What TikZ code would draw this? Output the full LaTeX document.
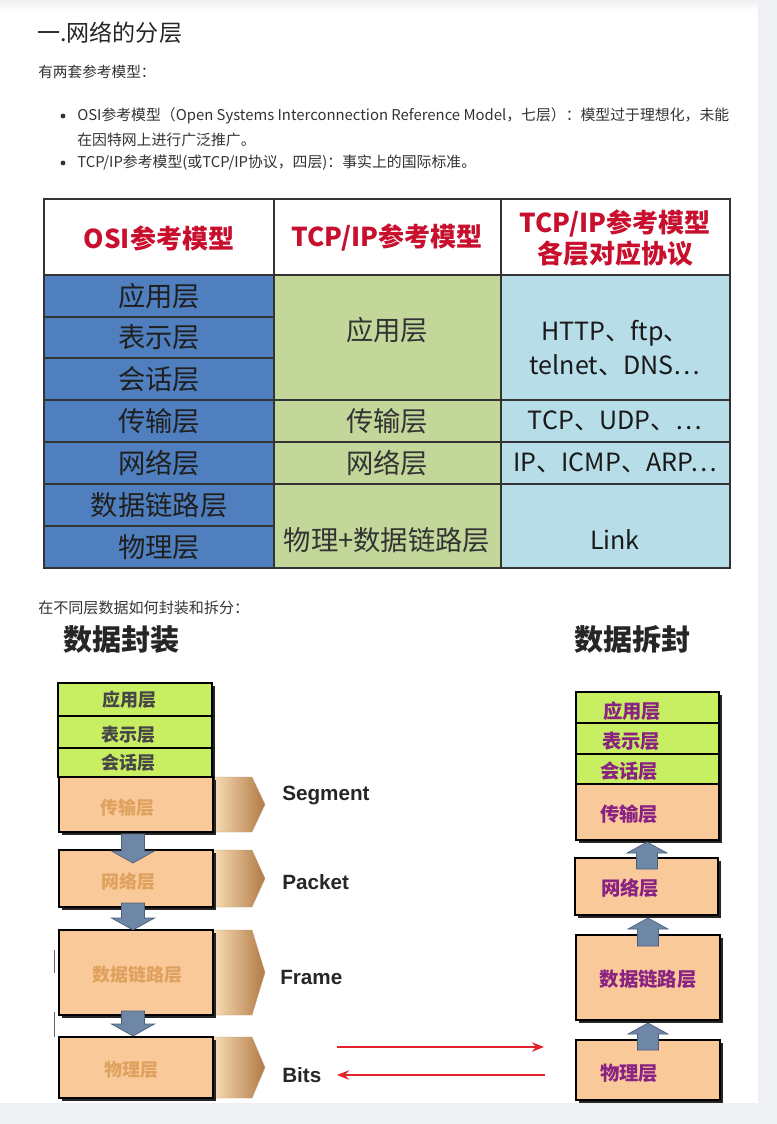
\documentclass[tikz,border=0pt]{standalone}
\usepackage{fontspec}
\setmainfont{Noto Sans CJK SC}
\newfontfamily\latinb{Liberation Sans}[BoldFont={Liberation Sans Bold}]
\usetikzlibrary{arrows.meta}
\definecolor{hdrred}{HTML}{C8102E}
\definecolor{osiblue}{HTML}{4F7FBE}
\definecolor{tcpgreen}{HTML}{C4D79B}
\definecolor{protblue}{HTML}{B7DDE8}
\definecolor{limegr}{HTML}{C8EF62}
\definecolor{peach}{HTML}{F9C99A}
\definecolor{tabdark}{HTML}{B07A45}
\definecolor{tablight}{HTML}{FADDB8}
\definecolor{blkfill}{HTML}{6E87A6}
\definecolor{blkedge}{HTML}{4A5F7A}
\definecolor{purp}{HTML}{8A2283}
\definecolor{orgtxt}{HTML}{DFA25E}
\definecolor{bodytxt}{HTML}{333333}
\definecolor{redarr}{HTML}{E3222B}
\definecolor{edgegray}{HTML}{EEF0F3}
\newcommand\fsz[2]{\fontsize{#1}{#2}\selectfont}
\newcommand\dnarrow[3]{\filldraw[blkarrow] (#1-11.5,#2) -- (#1+11.5,#2) -- (#1+11.5,#3-12) -- (#1+21.5,#3-12) -- (#1,#3) -- (#1-21.5,#3-12) -- (#1-11.5,#3-12) -- cycle;}
\newcommand\uparrowblk[3]{\filldraw[blkarrow] (#1-10.5,#2) -- (#1+10.5,#2) -- (#1+10.5,#3+11) -- (#1+20,#3+11) -- (#1,#3) -- (#1-20,#3+11) -- (#1-10.5,#3+11) -- cycle;}
\newcommand\tabshape[2]{\shade[left color=tablight, right color=tabdark, draw=tabdark!70, line width=0.3pt] (213,#1) -- (252,#1) -- (265,{(#1+#2)/2}) -- (252,#2) -- (213,#2) -- cycle;}
\newcommand\stk[5]{\fill[black!85] (#1+2.5,#2+2.5) rectangle (#3+2.5,#4+2.5); \draw[stackbox, fill=#5] (#1,#2) rectangle (#3,#4);}
\begin{document}
\begin{tikzpicture}[x=0.75pt,y=-0.75pt,
  gridline/.style={draw=black!80, line width=1.1pt},
  hdr/.style={font=\bfseries\fsz{19.5}{23}, text=hdrred, align=center, inner sep=0},
  osit/.style={font=\fsz{20.5}{24}, text=black!88, inner sep=0},
  tcpt/.style={font=\fsz{20.5}{24}, text=bodytxt, inner sep=0},
  prott/.style={font=\fsz{18.8}{25}, text=black!90, align=center, inner sep=0},
  stackbox/.style={draw=black, line width=1.3pt},
  greent/.style={font=\bfseries\fsz{13.5}{16}, text=bodytxt!90, inner sep=0},
  orangt/.style={font=\bfseries\fsz{13.5}{16}, text=orgtxt, inner sep=0},
  purpt/.style={font=\bfseries\fsz{14.5}{17}, text=purp, inner sep=0},
  pdu/.style={font=\latinb\bfseries\fsz{15.5}{18}, text=black!85, anchor=west, inner sep=0},
  blkarrow/.style={fill=blkfill, draw=blkedge, line width=0.5pt},
  redline/.style={draw=redarr, line width=1.5pt, -{Stealth[length=9pt,width=7pt]}},
  plain/.style={anchor=west, inner sep=0, text=black!80}
]
\useasboundingbox (0,0) rectangle (777,1124);
\fill[white] (0,0) rectangle (777,1124);
\fill[edgegray] (758,0) rectangle (777,1124);
\fill[edgegray] (0,1103) rectangle (777,1124);
\shade[top color=black!6, bottom color=white] (0,0) rectangle (758,10);

% ---------- heading text ----------
\node[plain, font=\fsz{17.3}{20}, text=black!85] (title) at (37,33) {一.网络的分层};
\node[plain, font=\fsz{11}{13}] (intro) at (38,72) {有两套参考模型：};
\fill[black!80] (63,116) circle (2.4);
\fill[black!80] (63,163) circle (2.4);
\node[plain, font=\fsz{11.15}{13}] (b1a) at (77,116) {OSI参考模型（Open Systems Interconnection Reference Model，七层）：模型过于理想化，未能};
\node[plain, font=\fsz{11.15}{13}] (b1b) at (77,140) {在因特网上进行广泛推广。};
\node[plain, font=\fsz{11.15}{13}] (b2) at (77,163) {TCP/IP参考模型(或TCP/IP协议，四层)：事实上的国际标准。};

% ---------- table ----------
\fill[white] (44,199) rectangle (730,275);
\fill[osiblue] (44,275) rectangle (274,568);
\fill[tcpgreen] (274,275) rectangle (501,568);
\fill[protblue] (501,275) rectangle (730,568);
\foreach \yy in {317,358,400,442,484,526} \draw[gridline] (44,\yy) -- (274,\yy);
\foreach \yy in {400,442,484} \draw[gridline] (274,\yy) -- (730,\yy);
\draw[gridline] (274,199) -- (274,568);
\draw[gridline] (501,199) -- (501,568);
\draw[gridline, line width=1.6pt] (44,275) -- (730,275);
\draw[gridline] (44,199) rectangle (730,568);

\node[hdr] (h1) at (159,238) {OSI参考模型};
\node[hdr] (h2) at (387,238) {TCP/IP参考模型};
\node[hdr] (h3) at (615,238) {TCP/IP参考模型\\各层对应协议};

\node[osit] (o1) at (159,296) {应用层};
\node[osit] (o2) at (159,337) {表示层};
\node[osit] (o3) at (159,379) {会话层};
\node[osit] (o4) at (159,421) {传输层};
\node[osit] (o5) at (159,463) {网络层};
\node[osit] (o6) at (159,505) {数据链路层};
\node[osit] (o7) at (159,547) {物理层};

\node[tcpt] (t1) at (387,330) {应用层};
\node[tcpt] (t2) at (387,421) {传输层};
\node[tcpt] (t3) at (387,463) {网络层};
\node[tcpt] (t4) at (387,540) {物理+数据链路层};

\node[prott] (p1) at (615,348) {HTTP、ftp、\\telnet、DNS…};
\node[prott] (p2) at (615,421) {TCP、UDP、…};
\node[prott] (p3) at (615,463) {IP、ICMP、ARP…};
\node[prott] (p4) at (615,540) {Link};

% ---------- encapsulation ----------
\node[plain, font=\fsz{11.3}{13}] (sub) at (38,608) {在不同层数据如何封装和拆分：};
\node[plain, font=\bfseries\fsz{21.8}{25}, text=black!85] (enc) at (63,640) {数据封装};
\node[plain, font=\bfseries\fsz{21.8}{25}, text=black!85] (dec) at (574,640) {数据拆封};

% left stack
\tabshape{777}{832}
\tabshape{850}{907}
\tabshape{930}{1015}
\tabshape{1037}{1098}
\stk{58}{683}{212}{716}{limegr}
\stk{58}{716}{212}{748}{limegr}
\stk{58}{748}{212}{777}{limegr}
\stk{59}{777}{213}{832}{peach}
\stk{59}{850}{213}{907}{peach}
\stk{59}{930}{213}{1015}{peach}
\stk{59}{1037}{213}{1098}{peach}
\dnarrow{133}{834}{863}
\dnarrow{133}{903}{930}
\dnarrow{133}{1011}{1036}

\node[greent] (l1) at (129,700) {应用层};
\node[greent] (l2) at (128,735) {表示层};
\node[greent] (l3) at (128,763) {会话层};
\node[orangt] (l4) at (127,808) {传输层};
\node[orangt] (l5) at (128,882) {网络层};
\node[orangt] (l6) at (137,975) {数据链路层};
\node[orangt] (l7) at (131,1070) {物理层};

\node[pdu] (seg) at (282,795) {Segment};
\node[pdu] (pkt) at (282,882) {Packet};
\node[pdu] (frm) at (280,977) {Frame};
\node[pdu] (bits) at (282,1075) {Bits};

\draw[black!60, line width=0.6pt] (54,950) -- (54,973);
\draw[black!60, line width=0.6pt] (54,1012) -- (54,1037);

% right stack
\stk{576}{692}{719}{723}{limegr}
\stk{576}{723}{719}{754}{limegr}
\stk{576}{754}{719}{784}{limegr}
\stk{576}{784}{719}{840}{peach}
\stk{575}{858}{718}{915}{peach}
\stk{576}{935}{720}{1020}{peach}
\stk{576}{1040}{720}{1100}{peach}
\uparrowblk{647}{869}{842}
\uparrowblk{648}{946}{918}
\uparrowblk{648}{1050}{1023}

\node[purpt] (r1) at (632,711) {应用层};
\node[purpt] (r2) at (631,741) {表示层};
\node[purpt] (r3) at (629,771) {会话层};
\node[purpt] (r4) at (629,814) {传输层};
\node[purpt] (r5) at (630,888) {网络层};
\node[purpt] (r6) at (648,979) {数据链路层};
\node[purpt] (r7) at (629,1073) {物理层};

% red transfer arrows
\coordinate (sendL) at (337,1047);
\coordinate (sendR) at (544,1047);
\coordinate (recvR) at (545,1075);
\coordinate (recvL) at (337,1075);
\draw[redline] (sendL) -- (sendR);
\draw[redline] (recvR) -- (recvL);
\end{tikzpicture}
\end{document}
